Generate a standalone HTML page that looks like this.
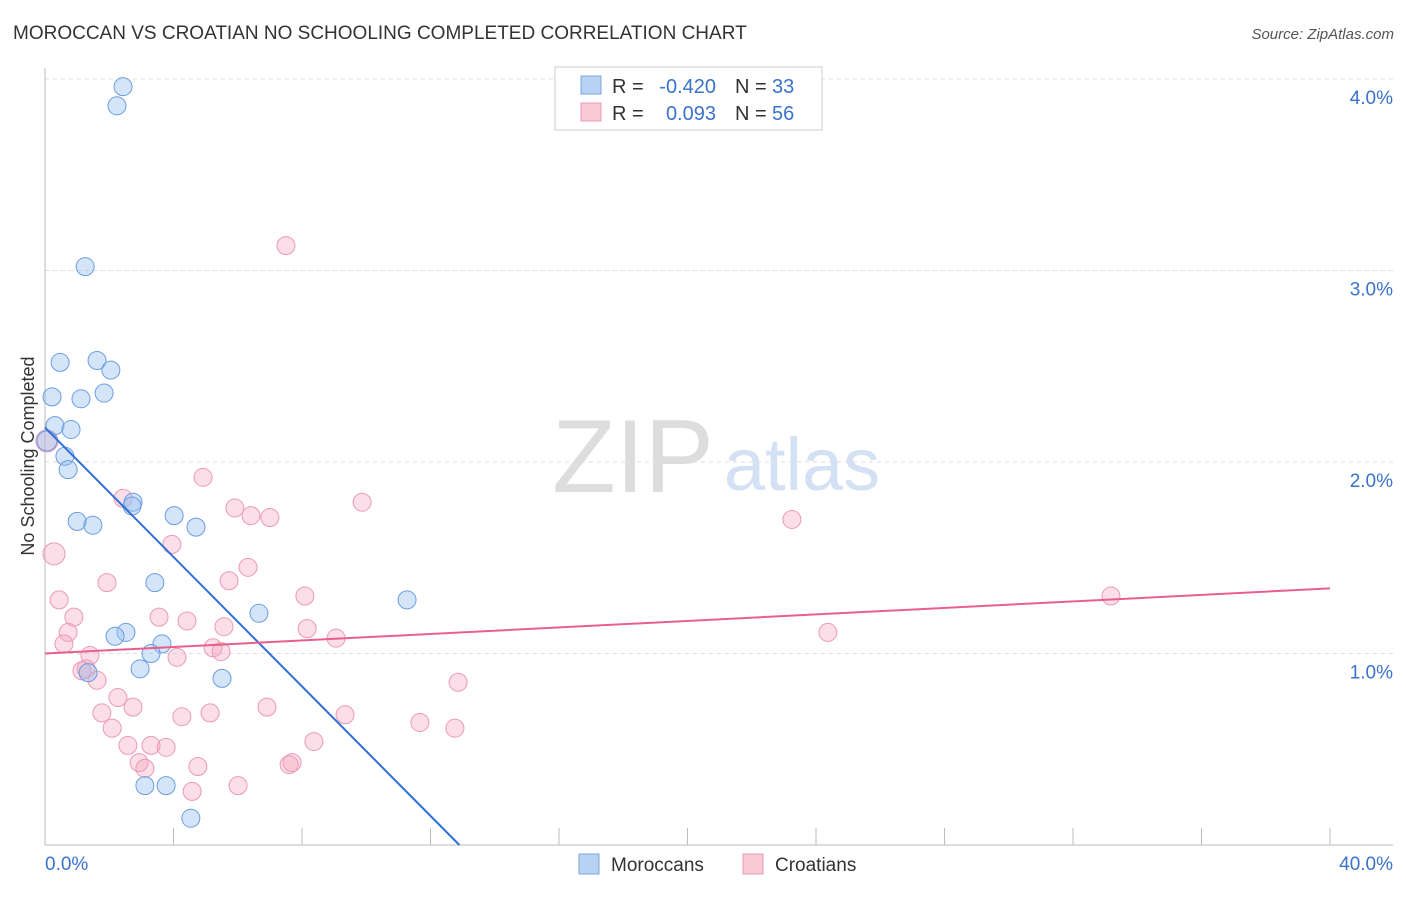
<!DOCTYPE html>
<html><head><meta charset="utf-8"><style>
body{margin:0;background:#fff;font-family:"Liberation Sans",sans-serif;}
svg text{font-family:"Liberation Sans",sans-serif;}
</style></head><body>
<svg id="c" width="1406" height="892">
<text x="13" y="39" font-size="19" fill="#333">MOROCCAN VS CROATIAN NO SCHOOLING COMPLETED CORRELATION CHART</text>
<text x="1394" y="39" font-size="15" fill="#555" text-anchor="end" font-style="italic">Source: ZipAtlas.com</text>
<text x="633" y="492" font-size="104" fill="#ddd" font-family="Liberation Serif" text-anchor="middle">ZIP</text>
<text x="802" y="490" font-size="74" fill="#d4e1f4" text-anchor="middle">atlas</text>
<text transform="translate(34,456) rotate(-90)" font-size="18" fill="#333" text-anchor="middle">No Schooling Completed</text>
<g id="grid"></g><g id="pts"></g><g id="lines"></g>
<g>
<rect x="555" y="67" width="267" height="63" fill="#fff" stroke="#ccc"/>
<rect x="581" y="76" width="20" height="18" fill="#b8d2f4" stroke="#7aa6e0"/>
<rect x="581" y="103" width="20" height="18" fill="#f9c9d7" stroke="#eb9ab3"/>
<text x="612" y="93" font-size="20" fill="#333">R =</text>
<text x="716" y="93" font-size="20" fill="#3a72cc" text-anchor="end">-0.420</text>
<text x="735" y="93" font-size="20" fill="#333">N =</text>
<text x="772" y="93" font-size="20" fill="#3a72cc">33</text>
<text x="612" y="120" font-size="20" fill="#333">R =</text>
<text x="716" y="120" font-size="20" fill="#3a72cc" text-anchor="end">0.093</text>
<text x="735" y="120" font-size="20" fill="#333">N =</text>
<text x="772" y="120" font-size="20" fill="#3a72cc">56</text>
</g>
<g>
<rect x="579" y="854" width="20" height="20" fill="#b8d2f4" stroke="#7aa6e0"/>
<text x="611" y="871" font-size="19" fill="#333">Moroccans</text>
<rect x="743" y="854" width="20" height="20" fill="#f9c9d7" stroke="#eb9ab3"/>
<text x="775" y="871" font-size="19" fill="#333">Croatians</text>
</g>
<text x="45" y="870" font-size="19" fill="#3a72cc">0.0%</text>
<text x="1393" y="870" font-size="19" fill="#3a72cc" text-anchor="end">40.0%</text>
</svg>
<script>
const yTicks=[1,2,3,4];
const xTicks=[0,4,8,12,16,20,24,28,32,36,40];
const blueX=[2.43,2.24,1.25,0.47,1.62,2.05,0.22,1.12,1.84,0.31,0.81,0.06,0.62,0.72,1.00,1.49,2.74,2.71,4.02,4.70,3.42,6.66,11.27,2.52,2.18,3.64,3.30,2.96,1.34,5.51,3.11,3.77,4.54];
const blueY=[3.96,3.86,3.02,2.52,2.53,2.48,2.34,2.33,2.36,2.19,2.17,2.11,2.03,1.96,1.69,1.67,1.79,1.77,1.72,1.66,1.37,1.21,1.28,1.11,1.09,1.05,1.00,0.92,0.90,0.87,0.31,0.31,0.14];
const pinkX=[7.50,4.92,2.43,9.87,5.91,6.41,7.00,23.25,3.95,0.28,6.32,1.93,5.73,0.44,8.09,3.55,4.42,0.90,5.57,8.16,0.72,9.06,24.37,33.18,0.59,5.23,5.48,1.40,4.11,1.15,1.28,1.62,12.86,2.27,1.77,2.74,4.26,5.14,6.91,9.34,11.67,12.76,2.09,2.58,3.30,3.77,8.37,2.93,3.11,4.76,7.60,7.69,4.58,6.01,0.06];
const pinkY=[3.13,1.92,1.81,1.79,1.76,1.72,1.71,1.70,1.57,1.52,1.45,1.37,1.38,1.28,1.30,1.19,1.17,1.19,1.14,1.13,1.11,1.08,1.11,1.30,1.05,1.03,1.01,0.99,0.98,0.91,0.92,0.86,0.85,0.77,0.69,0.72,0.67,0.69,0.72,0.68,0.64,0.61,0.61,0.52,0.52,0.51,0.54,0.43,0.40,0.41,0.42,0.43,0.28,0.31,2.11];
const blueTrend=[2.18,-0.169];
const pinkTrend=[1.00,0.0085];
const X=v=>45+v/40*1285, Y=v=>845-v/4*766;
const NS='http://www.w3.org/2000/svg';
function mk(t,a,p){const e=document.createElementNS(NS,t);for(const k in a)e.setAttribute(k,a[k]);p.appendChild(e);return e;}
const g=document.getElementById('grid');
yTicks.forEach(t=>{
 const l=mk('line',{x1:45,x2:1393,y1:Y(t),y2:Y(t),stroke:'#ddd','stroke-dasharray':'4,4'},g);
 
 
 const tx=mk('text',{x:1393,y:Y(t)+25,'font-size':19,fill:'#3a72cc','text-anchor':'end'},g);
 tx.textContent=t.toFixed(1)+'%';
 
 
});
mk('line',{x1:45,x2:45,y1:68,y2:845,stroke:'#bbb'},g);
mk('line',{x1:45,x2:1393,y1:845,y2:845,stroke:'#bbb'},g);
xTicks.forEach(t=>{
 const l=mk('line',{x1:X(t),x2:X(t),y1:828,y2:845,stroke:'#bbb'},g);
 
 
});
const p=document.getElementById('pts');
pinkX.forEach((v,i)=>{
 const big=(i==9||i==54);
 const c=mk('circle',{cx:X(v),cy:Y(pinkY[i]),r:big?11:9,fill:'rgba(244,160,186,0.35)',stroke:'#eb9ab3','stroke-width':1},p);
 
 
});
blueX.forEach((v,i)=>{
 const c=mk('circle',{cx:X(v),cy:Y(blueY[i]),r:i==11?10:9,fill:'rgba(150,190,240,0.4)',stroke:'#6a9de0','stroke-width':1},p);
 
 
});
const L=document.getElementById('lines');
const bx2=-blueTrend[0]/blueTrend[1];
const bl=mk('line',{x1:X(0),y1:Y(blueTrend[0]),x2:X(bx2),y2:Y(0),stroke:'#2f6fd6','stroke-width':2},L);


const pl=mk('line',{x1:X(0),y1:Y(pinkTrend[0]),x2:X(40),y2:Y(pinkTrend[0]+pinkTrend[1]*40),stroke:'#e8608a','stroke-width':2},L);


</script>
</body></html>
